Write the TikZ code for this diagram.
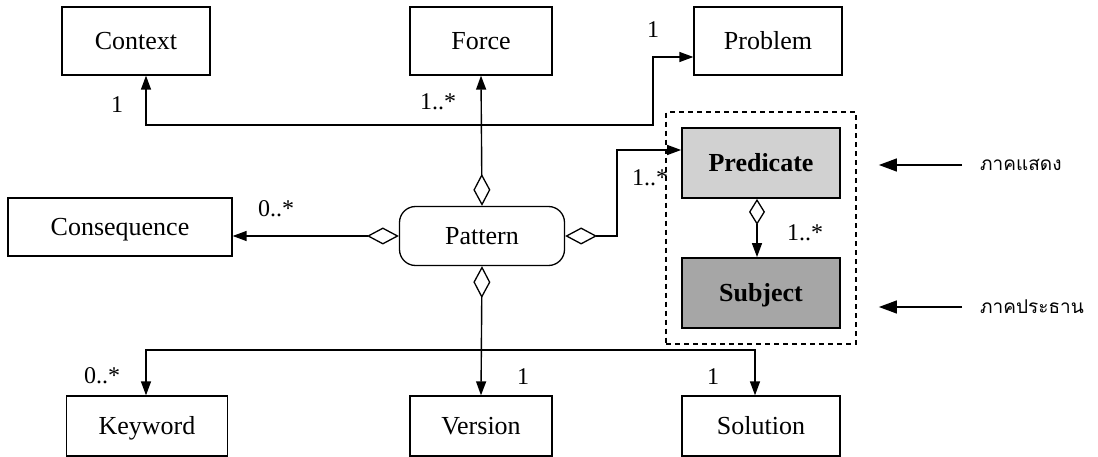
\documentclass[tikz,border=0pt]{standalone}
\usepackage{fontspec}
\setmainfont{Liberation Serif}
\newfontfamily\thaifont[Script=Thai]{Loma}
\usepackage{xcolor}
\usepackage{tikz}
\usetikzlibrary{arrows.meta,shapes.misc,calc,fit}
\tikzset{
  uml class/.style={
    rectangle,
    minimum height=68pt,
    minimum width=148pt,
    line width=1.3pt,
    draw=black,
    fill=white,
    font=\fontsize{26}{30}\selectfont,
    text height=17pt,
    text depth=0pt,
    inner sep=3pt,
  },
  uml pattern/.style={
    rectangle,
    rounded corners=16pt,
    minimum height=59pt,
    minimum width=165pt,
    line width=1.3pt,
    draw=black,
    fill=white,
    font=\fontsize{26}{30}\selectfont,
  },
  uml part/.style={
    uml class,
    minimum width=158pt,
    minimum height=70pt,
    line width=1.8pt,
    font=\fontsize{26}{30}\selectfont\bfseries,
  },
  uml group/.style={draw, dashed, line width=1.5pt, dash pattern=on 5pt off 4pt, inner sep=15pt},
  uml agg/.style={{Diamond[open,length=32pt,width=17pt,line width=1.3pt]}-{Triangle[length=14pt,width=10pt]}, line width=1.4pt},
  uml assoc/.style={{Triangle[length=14pt,width=10pt]}-{Triangle[length=14pt,width=10pt]}, line width=1.4pt},
  uml mult/.style={font=\fontsize{24}{28}\selectfont, inner sep=0pt},
  uml note/.style={font=\thaifont\fontsize{19}{24}\selectfont, inner sep=0pt, anchor=west},
  uml note arrow/.style={-{Triangle[length=18pt,width=13pt]}, line width=1.5pt},
}

\begin{document}
\begin{tikzpicture}[x=1pt,y=-1pt]
  \useasboundingbox (0,0) rectangle (1098,457);

  % classes
  \node[uml class] (context) at (136,41) {Context};
  \node[uml class,minimum width=142pt] (force) at (481,41) {Force};
  \node[uml class] (problem) at (768,41) {Problem};
  \node[uml class,minimum width=224pt,minimum height=58pt] (consequence) at (120,227) {Consequence};
  \node[uml pattern] (pattern) at (482,236) {Pattern};
  \node[uml class,minimum width=161pt,minimum height=60pt] (keyword) at (147,426) {Keyword};
  \node[uml class,minimum width=142pt,minimum height=60pt] (version) at (481,426) {Version};
  \node[uml class,minimum width=158pt,minimum height=60pt] (solution) at (761,426) {Solution};

  % sentence parts
  \node[uml part,fill=black!18] (predicate) at (761,163) {Predicate};
  \node[uml part,fill=black!35] (subject) at (761,293) {Subject};
  \node[uml group,fit=(predicate)(subject)] (sentence) {};

  \node[uml note] (predlabel) at (980,165) {ภาคแสดง};
  \node[uml note] (subjlabel) at (980,307) {ภาคประธาน};

  % bend points
  \coordinate (ctxfoot) at (146,125);
  \coordinate (probbend) at (653,57);
  \coordinate (predjoin) at (617,150);
  \coordinate (partx) at (757,0);
  \coordinate (kwbar) at (146,350);
  \coordinate (solbar) at (755,350);

  \draw[uml agg] (pattern.north) -- (force.south);
  \draw[uml agg] (pattern.west) -- (consequence.east |- pattern.west);
  \draw[uml agg] (pattern.south) -- (version.north);
  \draw[uml agg] (pattern.east) -| (predjoin) -- (predicate.west |- predjoin);
  \draw[uml agg,{Diamond[open,length=26pt,width=16pt,line width=1.3pt]}-{Triangle[length=14pt,width=10pt]}]
    (predicate.south -| partx) -- (subject.north -| partx);

  \draw[uml assoc] (context.south -| ctxfoot) -- (ctxfoot) -| (probbend) -- (problem.west |- probbend);
  \draw[uml assoc] (keyword.north -| kwbar) -- (kwbar) -- (solbar) -- (solution.north -| solbar);

  \draw[uml note arrow,shorten <=18pt,shorten >=38pt] (predlabel.west) -- (predicate.east |- predlabel.west);
  \draw[uml note arrow,shorten <=18pt,shorten >=38pt] (subjlabel.west) -- (subject.east |- subjlabel.west);

  % multiplicities
  \node[uml mult] (m1) at (117,105) {1};
  \node[uml mult] (m2) at (438,102) {1..*};
  \node[uml mult] (m3) at (653,30) {1};
  \node[uml mult] (m4) at (276,209) {0..*};
  \node[uml mult] (m5) at (650,178) {1..*};
  \node[uml mult] (m6) at (805,233) {1..*};
  \node[uml mult] (m7) at (102,376) {0..*};
  \node[uml mult] (m8) at (523,377) {1};
  \node[uml mult] (m9) at (713,377) {1};
\end{tikzpicture}
\end{document}
